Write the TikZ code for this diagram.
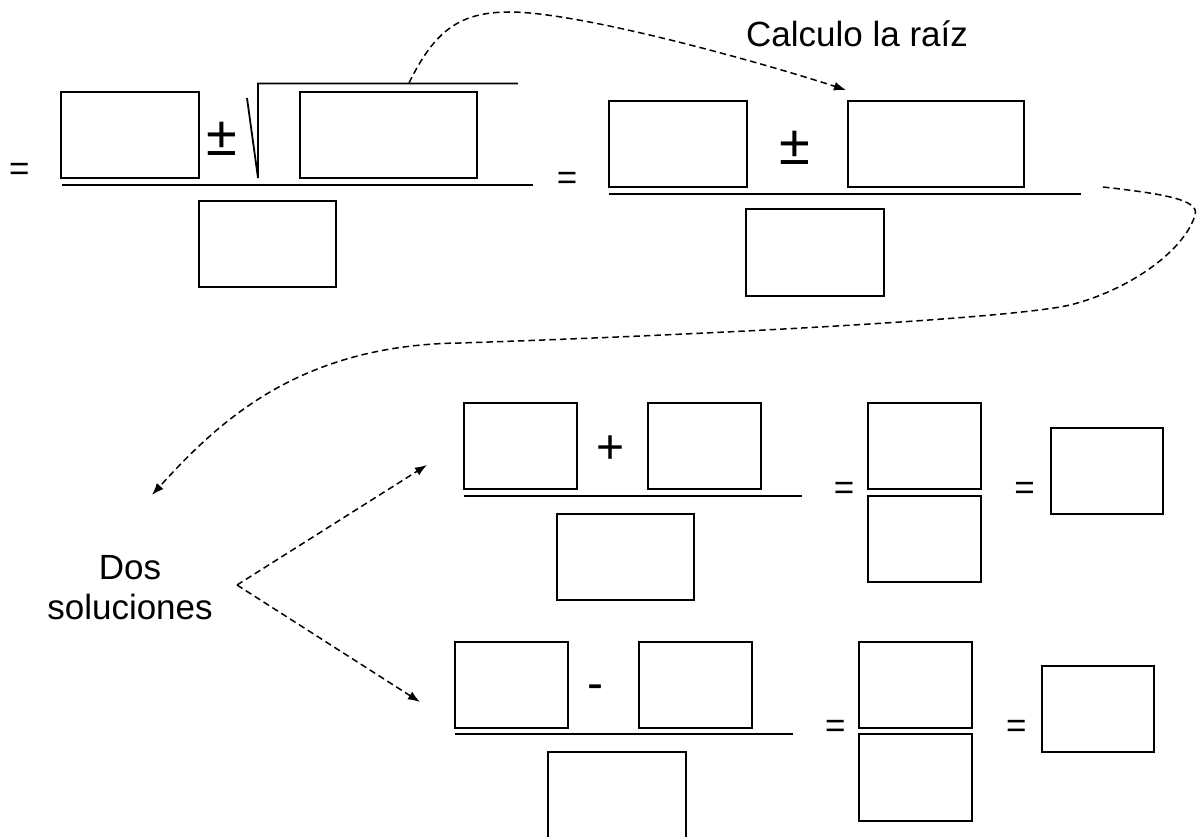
\documentclass[tikz,border=0pt]{standalone}
\usepackage{fontspec}
\setmainfont{Liberation Sans}
\usetikzlibrary{arrows.meta}
\begin{document}
\begin{tikzpicture}[x=1pt,y=-1pt,
  cajabox/.style={draw, line width=1.8pt, inner sep=0pt, minimum height=86pt},
  fracline/.style={line width=2pt},
  txt/.style={inner sep=0pt, font=\fontsize{35}{40}\selectfont},
  eqsym/.style={inner sep=0pt, anchor=base, font=\fontsize{35}{40}\selectfont},
  opsym/.style={inner sep=0pt, anchor=base, font=\fontsize{48}{48}\selectfont},
  pmsym/.style={inner sep=0pt, font=\fontsize{56}{56}\selectfont},
  dashconn/.style={dash pattern=on 6.5pt off 4pt, line width=1.5pt, -{Latex[length=12pt,width=9pt]}}]
\useasboundingbox (0,0) rectangle (1197,837);
\fill[white] (0,0) rectangle (1197,837);

% ---------- first fraction ----------
\node[eqsym] (eq1) at (19.4,180.5) {=};
\node[cajabox, minimum width=138pt] (A) at (130,135) {};
\node[pmsym] (pm1) at (222,139) {±};
\draw[line width=1.8pt] (247,98) -- (258,178) -- (258,83.5) -- (518,83.5);
\node[cajabox, minimum width=177pt] (R) at (388.5,135) {};
\draw[fracline] (62,185) -- (533,185);
\node[cajabox, minimum width=137pt] (Dn) at (267.5,244) {};

% ---------- second fraction ----------
\node[eqsym] (eq2) at (567,189.3) {=};
\node[cajabox, minimum width=138pt] (B1) at (678,144) {};
\node[pmsym] (pm2) at (795,147.5) {±};
\node[cajabox, minimum width=176pt] (B2) at (936,144) {};
\draw[fracline] (609,194) -- (1081,194);
\node[cajabox, minimum width=138pt, minimum height=87pt] (B3) at (815,252.5) {};

% ---------- row 1 ----------
\node[cajabox, minimum width=113pt] (C1) at (520.5,446) {};
\node[opsym] (plus) at (611,463) {+};
\node[cajabox, minimum width=113pt] (C2) at (704.5,446) {};
\draw[fracline] (464,496) -- (802,496);
\node[cajabox, minimum width=137pt] (C3) at (625.5,557) {};
\node[eqsym] (eq3) at (844,499.3) {=};
\node[cajabox, minimum width=113pt] (C4) at (924.5,446) {};
\node[cajabox, minimum width=113pt] (C5) at (924.5,539) {};
\node[eqsym] (eq4) at (1024.7,499.3) {=};
\node[cajabox, minimum width=112pt] (C6) at (1107,471) {};

% ---------- row 2 ----------
\node[cajabox, minimum width=113pt] (D1) at (511.5,685) {};
\node[opsym] (minus) at (595,699) {-};
\node[cajabox, minimum width=113pt] (D2) at (695.5,685) {};
\draw[fracline] (455,734) -- (793,734);
\node[cajabox, minimum width=138pt] (D3) at (617,795) {};
\node[eqsym] (eq5) at (835.3,737.6) {=};
\node[cajabox, minimum width=113pt] (D4) at (915.5,685) {};
\node[cajabox, minimum width=113pt, minimum height=87pt] (D5) at (915.5,777.5) {};
\node[eqsym] (eq6) at (1016.3,737.6) {=};
\node[cajabox, minimum width=112pt] (D6) at (1098,709) {};

% ---------- labels ----------
\node[txt, anchor=base west] (calc) at (746,47) {Calculo la raíz};
\node[txt, align=center] (dos) at (130,587.5) {Dos\\soluciones};

% ---------- connectors ----------
\coordinate (c1s) at (409,83);
\coordinate (c1e) at (846,90);
\draw[dashconn] (c1s) .. controls (435,30) and (460,12) .. (510,12)
  .. controls (580,12) and (760,62) .. (c1e);

\coordinate (c2s) at (1103,187);
\coordinate (c2e) at (152,495);
\draw[dashconn] (c2s) .. controls (1165,194) and (1200,200) .. (1195,215)
  .. controls (1185,250) and (1130,290) .. (1070,305)
  .. controls (1010,319) and (700,335) .. (460,343)
  .. controls (300,345) and (220,420) .. (c2e);

\coordinate (v) at (237,585);
\coordinate (t1) at (427,465);
\coordinate (t2) at (420,702);
\draw[dashconn] (v) -- (t1);
\draw[dashconn] (v) -- (t2);
\end{tikzpicture}
\end{document}
